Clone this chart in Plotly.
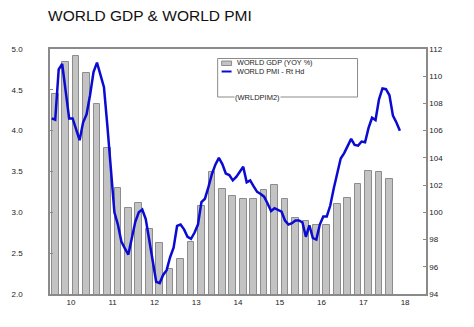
import plotly.graph_objects as go

# ---- data ----
gdp_start_year = 2010  # quarterly, from 2010 Q1
gdp_yoy = [4.45, 4.84, 4.91, 4.71, 4.33, 3.79, 3.30, 3.05, 3.11, 2.80,
           2.62, 2.31, 2.43, 2.64, 3.08, 3.50, 3.28, 3.20, 3.16, 3.16,
           3.27, 3.34, 3.16, 2.93, 2.89, 2.85, 2.84, 3.10, 3.18, 3.35,
           3.51, 3.49, 3.41]

pmi_start_year = 2010  # monthly, from Jan 2010
world_pmi = [106.9, 106.8, 110.5, 110.9, 108.9, 106.9, 106.9, 106.1, 105.3, 106.6,
             107.2, 108.6, 110.3, 111.0, 110.1, 109.2, 106.3, 103.1, 100.0, 99.1,
             97.85, 97.35, 96.9, 98.1, 99.3, 100.0, 100.2, 99.5, 98.0, 96.5,
             94.9, 94.8, 95.4, 95.75, 96.7, 97.4, 99.0, 99.1, 98.75, 98.2,
             98.05, 98.5, 99.1, 100.75, 101.0, 101.85, 102.8, 103.5, 104.0, 103.55,
             102.85, 102.74, 102.35, 102.6, 103.0, 103.35, 102.2, 102.35, 101.9, 101.5,
             101.35, 101.15, 100.65, 100.1, 100.3, 100.2, 100.05, 99.4, 99.1, 99.2,
             99.4, 99.4, 99.27, 98.2, 99.05, 98.1, 98.0, 99.1, 99.7, 99.7,
             100.5, 101.75, 102.8, 103.95, 104.35, 104.85, 105.4, 104.95, 104.9, 105.2,
             105.15, 106.2, 106.95, 106.78, 108.3, 109.1, 109.05, 108.6, 107.1, 106.6,
             106.0]

year_ticks = [2010, 2011, 2012, 2013, 2014, 2015, 2016, 2017, 2018]
year_labels = ["10", "11", "12", "13", "14", "15", "16", "17", "18"]

left_ticks = [2.0, 2.5, 3.0, 3.5, 4.0, 4.5, 5.0]
right_ticks = [94, 96, 98, 100, 102, 104, 106, 108, 110, 112]

legend_names = ["WORLD GDP (YOY %)", "WORLD PMI - Rt Hd"]
source_code = "(WRLDPIM2)"

# ---- derived positions (decimal years) ----
gdp_x = [gdp_start_year + (i + 0.5) / 4 for i in range(len(gdp_yoy))]
pmi_x = [pmi_start_year + (i + 0.5) / 12 for i in range(len(world_pmi))]

FONT = "Arial, Liberation Sans, sans-serif"
AXC = "#8a8a8a"

fig = go.Figure()
fig.add_trace(go.Bar(
    x=gdp_x, y=gdp_yoy, width=0.16, base=0,
    marker=dict(color="#c3c3c3", line=dict(color="#8c8c8c", width=1)),
    name=legend_names[0], yaxis="y", showlegend=False))
fig.add_trace(go.Scatter(
    x=pmi_x, y=world_pmi, mode="lines",
    line=dict(color="#0a0ad2", width=2.5),
    name=legend_names[1], yaxis="y2", showlegend=False))

fig.update_layout(
    width=474, height=327,
    margin=dict(l=47, r=48, t=49, b=33),
    paper_bgcolor="white", plot_bgcolor="white",
    font=dict(family=FONT, size=8, color="#222"),
    title=dict(text="WORLD GDP & WORLD PMI", x=48 / 474, xanchor="left",
               y=1 - 16 / 327, yanchor="middle",
               font=dict(family=FONT, size=15.5, color="#111")),
    xaxis=dict(range=[2010, 2019], tickvals=[y + 0.5 for y in year_ticks],
               ticktext=year_labels, showgrid=False, zeroline=False,
               showline=True, mirror=True, linecolor=AXC, linewidth=1.5,
               ticks="", tickfont=dict(size=8)),
    yaxis=dict(range=[2.0, 5.0], tickvals=left_ticks,
               ticktext=[f"{v:.1f}" for v in left_ticks],
               showgrid=False, zeroline=False, showline=True,
               linecolor=AXC, linewidth=1.5, ticks="inside", ticklen=3,
               tickcolor=AXC, ticklabelstandoff=24, tickfont=dict(size=8)),
    yaxis2=dict(range=[94, 112], tickvals=right_ticks,
                ticktext=[str(v) for v in right_ticks],
                overlaying="y", side="right", showgrid=False, zeroline=False,
                showline=True, linecolor=AXC, linewidth=1.5,
                ticks="inside", ticklen=3, tickcolor=AXC, tickfont=dict(size=8)),
    bargap=0,
)

# ---- manual legend box (paper coords) ----
def px(X):
    return (X - 47) / 379

def py(Y):
    return (294 - Y) / 245

fig.add_shape(type="rect", xref="paper", yref="paper",
              x0=px(216), x1=px(357), y0=py(97), y1=py(58.5),
              line=dict(color="#8a8a8a", width=1), fillcolor="white", layer="above")
fig.add_shape(type="rect", xref="paper", yref="paper",
              x0=px(220), x1=px(230), y0=py(65.5), y1=py(61),
              line=dict(color="#8c8c8c", width=1), fillcolor="#c3c3c3", layer="above")
fig.add_shape(type="line", xref="paper", yref="paper",
              x0=px(220), x1=px(230), y0=py(71.5), y1=py(71.5),
              line=dict(color="#0a0ad2", width=2), layer="above")
fig.add_annotation(xref="paper", yref="paper", x=px(233.5), y=py(67.3),
                   text="<br>".join(legend_names), showarrow=False,
                   xanchor="left", yanchor="middle", align="left",
                   font=dict(family=FONT, size=7.3, color="#222"))
fig.add_annotation(xref="paper", yref="paper", x=px(256.5), y=py(98),
                   text=source_code, showarrow=False, xanchor="center",
                   yanchor="middle", bgcolor="white", borderpad=0,
                   font=dict(family=FONT, size=7.5, color="#222"))

fig.write_html("out.html")
